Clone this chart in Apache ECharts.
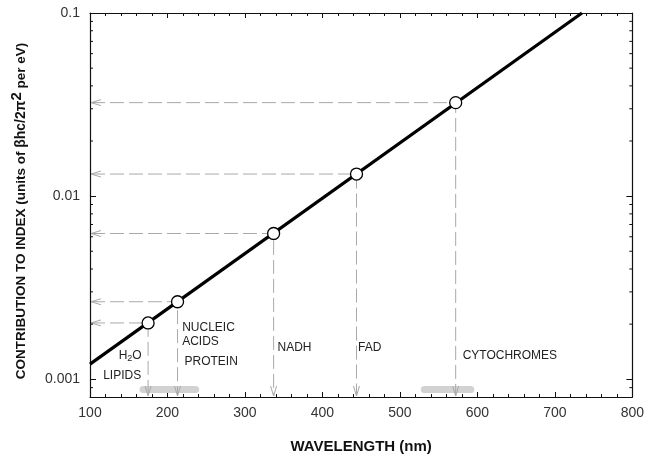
<!DOCTYPE html>
<html>
<head>
<meta charset="utf-8">
<script src="https://cdn.jsdelivr.net/npm/echarts@6/dist/echarts.min.js"></script>
<style>html,body{margin:0;padding:0;background:#fff}#c{width:647px;height:460px}</style>
</head>
<body>
<div id="c"></div>
<script>
// ---- data ----
var xMin = 100, xMax = 800, xInterval = 100;
var yMin = 0.0008, yMax = 0.1;
// fitted straight line (in log space) endpoints
var lineX = [100, 735];
var lineY = [0.00121, 0.1];
// marked chromophores
var pointNames = ['H2O / LIPIDS', 'NUCLEIC ACIDS / PROTEIN', 'NADH', 'FAD', 'CYTOCHROMES'];
var pointX = [175, 213, 337, 444, 572];
var pointY = [0.00203, 0.00265, 0.00625, 0.0132, 0.0324];
// grey absorption bands along the wavelength axis
var bandStart = [164, 527];
var bandEnd = [241, 596];
// y minor ticks (log decades)
var yMinorTicks = [0.0009, 0.002, 0.003, 0.004, 0.005, 0.006, 0.007, 0.008, 0.009,
                   0.02, 0.03, 0.04, 0.05, 0.06, 0.07, 0.08, 0.09];
// annotation texts and their anchor (wavelength, value)
var labelTexts = ['{n|H}{s|2}{n|O}', 'LIPIDS', 'NUCLEIC', 'ACIDS', 'PROTEIN', 'NADH', 'FAD', 'CYTOCHROMES'];
var labelX = [137, 117, 219, 219, 222, 342, 446, 581];
var labelY = [0.00134, 0.00105, 0.00192, 0.00161, 0.00125, 0.00148, 0.00149, 0.00135];

var FONT = '"Liberation Sans", Arial, sans-serif';
var chart = echarts.init(document.getElementById('c'));

function fmt(v) { return String(parseFloat(Number(v).toPrecision(6))); }

var xAxisBase = {
  type: 'value', min: xMin, max: xMax, interval: xInterval,
  axisLine: { show: true, onZero: false, lineStyle: { color: '#111', width: 1.2 } },
  axisTick: { show: true, inside: true, length: 5, lineStyle: { color: '#111' } },
  minorTick: { show: true, splitNumber: 5, length: 3, lineStyle: { color: '#111' } },
  splitLine: { show: false }
};
var yAxisBase = {
  type: 'log', logBase: 10, min: yMin, max: yMax,
  axisLine: { show: true, onZero: false, lineStyle: { color: '#111', width: 1.2 } },
  axisTick: { show: true, inside: true, length: 6, lineStyle: { color: '#111' } },
  splitLine: { show: false }
};

var option = {
  animation: false,
  backgroundColor: '#fff',
  grid: { left: 90, right: 11, top: 13, bottom: 63 },
  xAxis: [
    Object.assign({}, xAxisBase, {
      position: 'bottom',
      name: 'WAVELENGTH (nm)', nameLocation: 'middle', nameGap: 42,
      nameTextStyle: { fontFamily: FONT, fontWeight: 'bold', fontSize: 15, color: '#111' },
      axisLabel: { fontFamily: FONT, fontSize: 14, color: '#333', margin: 9 }
    }),
    Object.assign({}, xAxisBase, { position: 'top', axisLabel: { show: false } })
  ],
  yAxis: [
    Object.assign({}, yAxisBase, {
      position: 'left',
      name: '{b|CONTRIBUTION TO INDEX (units of }{g|βhc/2π}{s|2}{e| per eV)}',
      nameLocation: 'middle', nameGap: 57,
      nameTextStyle: {
        color: '#111',
        rich: {
          b: { fontFamily: FONT, fontWeight: 'bold', fontSize: 13.5, color: '#111' },
          g: { fontFamily: FONT, fontWeight: 'bold', fontSize: 14, color: '#111' },
          s: { fontFamily: FONT, fontWeight: 'bold', fontSize: 15, color: '#111', padding: [0, 0, 9, 0] },
          e: { fontFamily: FONT, fontWeight: 'bold', fontSize: 13.5, color: '#111', padding: [0, 12, 0, 0] }
        }
      },
      axisLabel: { fontFamily: FONT, fontSize: 14, color: '#333', margin: 10, showMinLabel: false, formatter: fmt }
    }),
    Object.assign({}, yAxisBase, { position: 'right', axisLabel: { show: false } })
  ],
  series: [
    {
      // grey bands
      type: 'custom', z: 1, silent: true,
      data: bandStart.map(function (s, i) { return [s, yMin, bandEnd[i]]; }),
      renderItem: function (params, api) {
        var p0 = api.coord([api.value(0), yMin]);
        var p1 = api.coord([api.value(2), yMin]);
        return { type: 'rect', shape: { x: p0[0], y: p0[1] - 11, width: p1[0] - p0[0], height: 7, r: 3.5 },
                 style: { fill: '#d2d2d2' } };
      }
    },
    {
      // dashed guide lines with open arrowheads
      type: 'custom', z: 2, silent: true, clip: false,
      data: pointX.map(function (x, i) { return [x, pointY[i]]; }),
      renderItem: function (params, api) {
        var p = api.coord([api.value(0), api.value(1)]);
        var l = api.coord([xMin, api.value(1)]);
        var b = api.coord([api.value(0), yMin]);
        var st = { stroke: '#a9a9a9', lineWidth: 1, lineDash: [14, 5], fill: null };
        var ast = { stroke: '#a9a9a9', lineWidth: 1, fill: null };
        return { type: 'group', children: [
          { type: 'polyline', shape: { points: [[l[0] + 1, l[1]], [p[0], p[1]], [b[0], b[1] - 1]] }, style: st },
          { type: 'polyline', shape: { points: [[l[0] + 11, l[1] - 3], [l[0] + 1, l[1]], [l[0] + 11, l[1] + 3]] }, style: ast },
          { type: 'polyline', shape: { points: [[b[0] - 3, b[1] - 11], [b[0], b[1] - 1], [b[0] + 3, b[1] - 11]] }, style: ast }
        ] };
      }
    },
    {
      // log minor ticks on left and right frame
      type: 'custom', z: 3, silent: true, clip: false,
      data: yMinorTicks.map(function (v) { return [xMin, v]; }),
      renderItem: function (params, api) {
        var l = api.coord([xMin, api.value(1)]);
        var r = api.coord([xMax, api.value(1)]);
        var st = { stroke: '#111', lineWidth: 1 };
        return { type: 'group', children: [
          { type: 'line', shape: { x1: l[0], y1: l[1], x2: l[0] + 3, y2: l[1] }, style: st },
          { type: 'line', shape: { x1: r[0] - 3, y1: r[1], x2: r[0], y2: r[1] }, style: st }
        ] };
      }
    },
    {
      // main line
      type: 'line', z: 4, symbol: 'none', silent: true,
      data: lineX.map(function (x, i) { return [x, lineY[i]]; }),
      lineStyle: { color: '#000', width: 3.2 }
    },
    {
      // marked points
      type: 'scatter', z: 5, silent: true,
      data: pointX.map(function (x, i) { return { name: pointNames[i], value: [x, pointY[i]] }; }),
      symbol: 'circle', symbolSize: 12,
      itemStyle: { color: '#ffffff', opacity: 1, borderColor: '#000', borderWidth: 1.3 }
    },
    {
      // text annotations
      type: 'custom', z: 6, silent: true, clip: false,
      data: labelX.map(function (x, i) { return [x, labelY[i], i]; }),
      renderItem: function (params, api) {
        var p = api.coord([api.value(0), api.value(1)]);
        var i = api.value(2);
        return { type: 'text', x: p[0], y: p[1],
          style: { text: labelTexts[i], fontFamily: FONT, fontSize: 12, fill: '#222',
                   align: 'left', verticalAlign: 'middle',
                   rich: { n: { fontFamily: FONT, fontSize: 12, color: '#222' },
                           s: { fontFamily: FONT, fontSize: 9, color: '#222', padding: [6, 0, 0, 0], verticalAlign: 'top' } } } };
      }
    }
  ]
};
chart.setOption(option);
</script>
</body>
</html>
